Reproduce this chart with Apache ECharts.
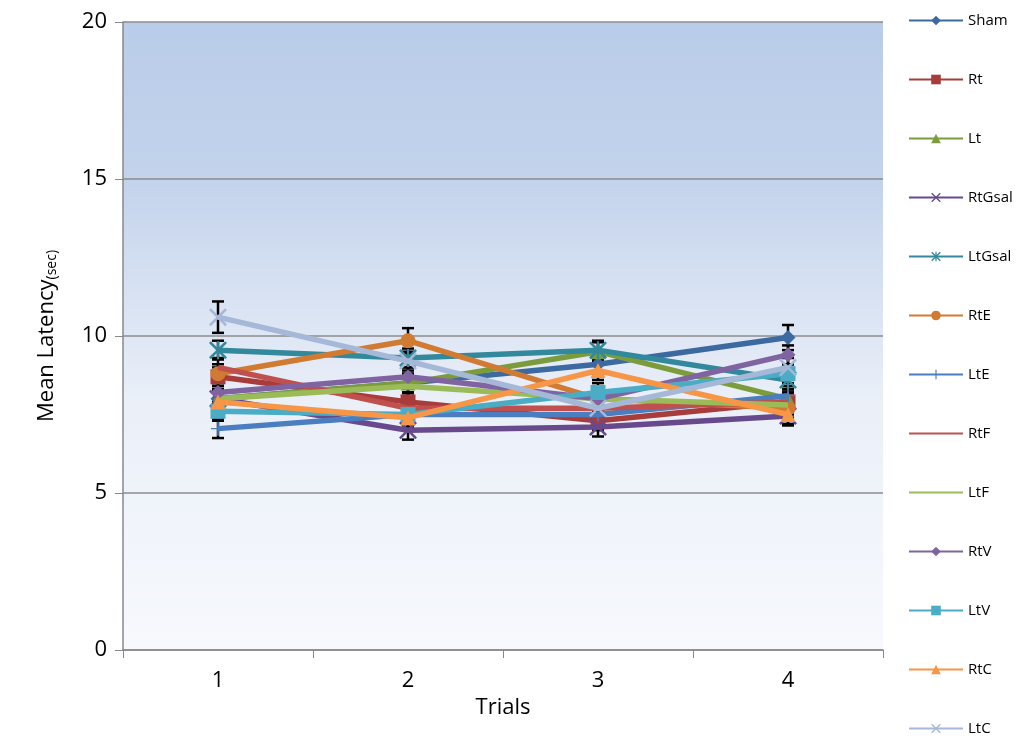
<!DOCTYPE html>
<html>
<head>
<meta charset="utf-8">
<script src="https://cdn.jsdelivr.net/npm/echarts@6/dist/echarts.min.js"></script>
<style>html,body{margin:0;padding:0;background:#fff}#chart{width:1021px;height:738px}</style>
</head>
<body>
<div id="chart"></div>
<script>
var trials = ['1', '2', '3', '4'];
var names = ['Sham', 'Rt', 'Lt', 'RtGsal', 'LtGsal', 'RtE', 'LtE', 'RtF', 'LtF', 'RtV', 'LtV', 'RtC', 'LtC'];
var colors = ['#3c6aa0', '#a83c3a', '#7c9c3c', '#684a8c', '#33899c', '#d07a32', '#4a7ec0', '#c0504d', '#9bbb59', '#8064a2', '#4bacc6', '#f79646', '#a6b8d8'];
var X = 'path://M1,0L5,4L9,0L10,1L6,5L10,9L9,10L5,6L1,10L0,9L4,5L0,1Z';
var PLUS = 'path://M0,4.5L10,4.5L10,5.5L0,5.5Z M4.4,0L5.6,0L5.6,10L4.4,10Z';
var STAR = 'path://M1,0L5,4L9,0L10,1L6,5L10,9L9,10L5,6L1,10L0,9L4,5L0,1Z M4.4,0L5.6,0L5.6,10L4.4,10Z';
var symbols = ['diamond', 'rect', 'triangle', X, STAR, 'circle', PLUS, 'none', 'none', 'diamond', 'rect', 'triangle', X];
var values = [
  [8.0, 8.5, 9.1, 9.95],
  [8.7, 7.9, 7.3, 7.9],
  [8.0, 8.5, 9.5, 8.0],
  [8.0, 7.0, 7.1, 7.45],
  [9.55, 9.3, 9.55, 8.6],
  [8.8, 9.85, 8.0, 7.7],
  [7.05, 7.5, 7.5, 8.1],
  [9.0, 7.7, 7.7, 7.9],
  [8.0, 8.4, 8.0, 7.8],
  [8.2, 8.7, 8.0, 9.4],
  [7.6, 7.5, 8.2, 8.8],
  [7.9, 7.4, 8.9, 7.5],
  [10.6, 9.2, 7.7, 9.0]
];
var errors = [
  [0.3, 0.3, 0.3, 0.4],
  [0.3, 0.3, 0.3, 0.3],
  [0.3, 0.3, 0.3, 0.3],
  [0.3, 0.3, 0.3, 0.3],
  [0.3, 0.3, 0.3, 0.3],
  [0.3, 0.4, 0.3, 0.3],
  [0.3, 0.3, 0.3, 0.3],
  [0.3, 0.3, 0.3, 0.3],
  [0.3, 0.3, 0.3, 0.3],
  [0.3, 0.3, 0.3, 0.3],
  [0.3, 0.3, 0.3, 0.3],
  [0.3, 0.3, 0.3, 0.3],
  [0.5, 0.3, 0.3, 0.3]
];

var chart = echarts.init(document.getElementById('chart'));

var errData = [];
for (var i = 0; i < values.length; i++) {
  for (var j = 0; j < trials.length; j++) {
    errData.push([j, values[i][j] - errors[i][j], values[i][j] + errors[i][j]]);
  }
}

var series = [{
  type: 'custom',
  name: 'err',
  data: errData,
  z: 1,
  renderItem: function(params, api) {
    var lo = api.coord([api.value(0), api.value(1)]);
    var hi = api.coord([api.value(0), api.value(2)]);
    var s = {stroke: '#000', lineWidth: 2.5};
    return {type: 'group', children: [
      {type: 'line', shape: {x1: lo[0], y1: lo[1], x2: hi[0], y2: hi[1]}, style: s},
      {type: 'line', shape: {x1: lo[0] - 6, y1: lo[1], x2: lo[0] + 6, y2: lo[1]}, style: s},
      {type: 'line', shape: {x1: hi[0] - 6, y1: hi[1], x2: hi[0] + 6, y2: hi[1]}, style: s}
    ]};
  }
}];
var legends = [];
for (var k = 0; k < names.length; k++) {
  var noSym = symbols[k] === 'none';
  series.push({
    type: 'line',
    name: names[k],
    data: values[k],
    symbol: noSym ? 'circle' : symbols[k],
    symbolSize: symbols[k] === PLUS ? 14 : (symbols[k] === X || symbols[k] === STAR ? 18 : 15),
    showSymbol: !noSym,
    z: 2 + k,
    lineStyle: {width: 5.5, color: colors[k]},
    itemStyle: {color: colors[k]}
  });
  legends.push({
    data: [noSym ? {name: names[k], itemStyle: {opacity: 0}} : names[k]],
    left: 903,
    top: 8 + k * 59,
    itemWidth: 54,
    itemHeight: 12,
    textStyle: {fontFamily: 'Open Sans', fontSize: 15, color: '#000'}
  });
}

chart.setOption({
  animation: false,
  color: colors,
  legend: legends,
  grid: {
    left: 123, right: 138, top: 22, bottom: 88,
    show: true,
    borderWidth: 0,
    backgroundColor: new echarts.graphic.LinearGradient(0, 0, 0, 1, [
      {offset: 0, color: '#b9cce9'},
      {offset: 0.25, color: '#c3d3ec'},
      {offset: 0.6, color: '#eaeff8'},
      {offset: 1, color: '#f7f9fd'}
    ])
  },
  xAxis: {
    type: 'category',
    data: trials,
    name: 'Trials',
    nameLocation: 'middle',
    nameGap: 46,
    nameTextStyle: {fontFamily: 'Open Sans', fontSize: 22, color: '#000'},
    axisLine: {lineStyle: {color: '#888', width: 1.5}},
    axisTick: {show: true, length: 8, lineStyle: {color: '#888'}},
    axisLabel: {fontFamily: 'Open Sans', fontSize: 22, color: '#000', margin: 20}
  },
  yAxis: {
    type: 'value',
    min: 0, max: 20, interval: 5,
    name: 'Mean Latency{s|(sec)}',
    nameLocation: 'middle',
    nameGap: 64,
    nameTextStyle: {fontFamily: 'Open Sans', fontSize: 22, color: '#000', rich: {s: {fontSize: 14, verticalAlign: 'bottom', padding: [10, 0, 0, 0]}}},
    axisLine: {show: true, lineStyle: {color: '#888', width: 1.5}},
    axisTick: {show: true, length: 8, inside: false, lineStyle: {color: '#888'}},
    splitLine: {lineStyle: {color: '#8c8c8c', width: 1.5}},
    axisLabel: {fontFamily: 'Open Sans', fontSize: 22, color: '#000', margin: 16}
  },
  series: series
});
</script>
</body>
</html>
